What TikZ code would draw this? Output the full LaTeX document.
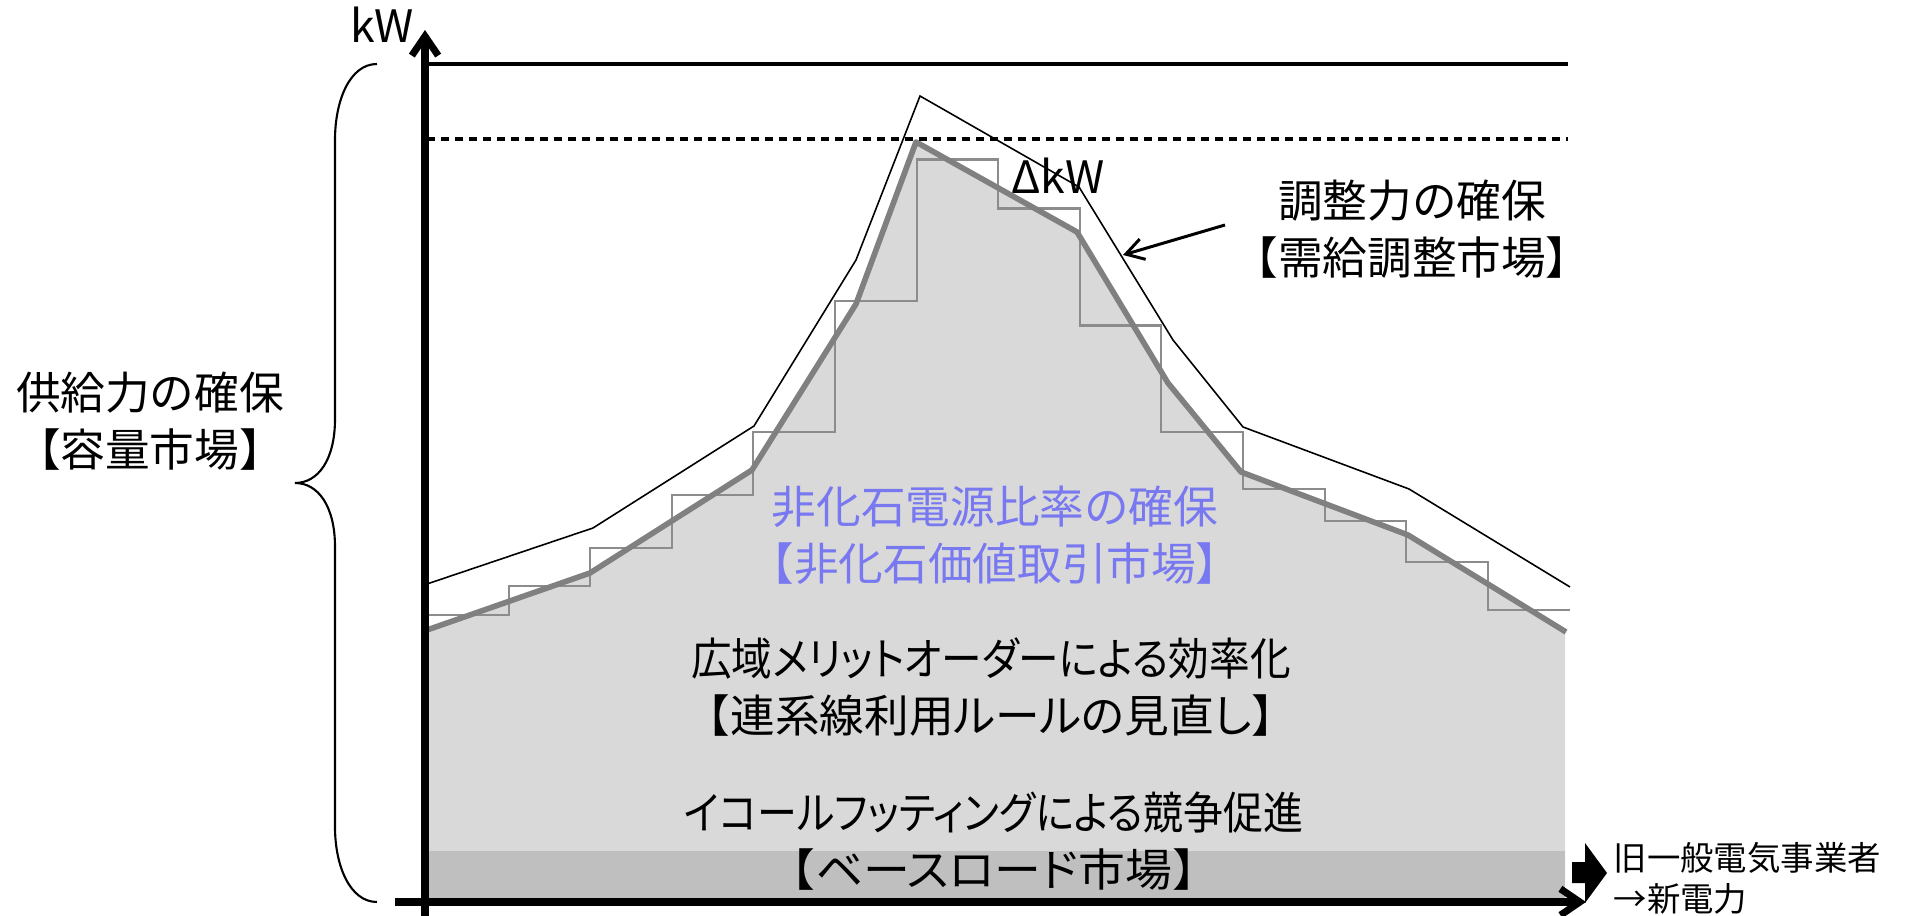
\documentclass[tikz,border=0pt]{standalone}
\usepackage{fontspec}
\setmainfont{Noto Sans CJK JP}
\newfontfamily\jpp[RawFeature=+palt]{Noto Sans CJK JP}
\newcommand{\pk}[1]{{\jpp #1}}
\usetikzlibrary{arrows.meta}
\definecolor{fillL}{HTML}{D9D9D9}
\definecolor{fillD}{HTML}{BFBFBF}
\definecolor{curveG}{HTML}{808080}
\definecolor{stepG}{HTML}{8C8C8C}
\definecolor{nfblue}{RGB}{120,120,240}
\begin{document}
\begin{tikzpicture}[x=0.01cm,y=-0.01cm,
  lbl/.style={inner sep=0pt, align=center, font=\fontsize{12.7}{16.2}\selectfont},
  smalllbl/.style={inner sep=0pt, align=left, font=\fontsize{9.5}{11.7}\selectfont},
  axisline/.style={line width=2pt, -{Straight Barb[length=5.5pt,width=7.5pt]}},
  callout/.style={line width=0.85pt, -{Straight Barb[length=5pt,width=6pt]}},
  stepline/.style={stepG, line width=0.7pt},
  demand/.style={curveG, line width=1.6pt, line join=round},
  envelope/.style={black, line width=0.45pt},
  bracepath/.style={black, line width=0.6pt}]
\useasboundingbox (0,0) rectangle (1912,916);

% filled region under the demand curve
\path[fill=fillL] (427,902) -- (427,630) -- (590,573) -- (752,470) -- (856,304) -- (916,142)
  -- (1077,232) -- (1168,383) -- (1241,472) -- (1408,535) -- (1565,632) -- (1565,902) -- cycle;
\fill[fillD] (427,851) rectangle (1565,902);

% step line
\draw[stepline] (427,615) -| (509,586) -| (590,548) -| (672,495) -| (753,432) -| (835,301)
  -| (917,159.5) -| (998,208.5) -| (1080,325.5) -| (1161,432) -| (1243,489) -| (1325,521)
  -| (1406,562) -| (1488,610) -- (1570,610);

% demand curve
\draw[demand] (427,630) -- (590,573) -- (752,470) -- (856,304) -- (916,142) -- (1077,232)
  -- (1168,383) -- (1241,472) -- (1408,535) -- (1566,632);

% upper envelope
\draw[envelope] (427,584) -- (593,528) -- (754,426) -- (856,260) -- (920,96) -- (1079,187)
  -- (1173,340) -- (1243,427) -- (1409,489) -- (1570,587);

% top solid and dashed lines
\draw[line width=1.15pt] (427,64) -- (1568,64);
\draw[line width=0.9pt, dash pattern=on 2.3pt off 1.7pt] (427,139) -- (1568,139);

% axes
\coordinate (yb) at (425,916);
\coordinate (yt) at (425,30);
\coordinate (xl) at (395,902);
\coordinate (xr) at (1586,902);
\draw[axisline] (yb) -- (yt);
\draw[axisline] (xl) -- (xr);

% brace
\draw[bracepath] (377,64) .. controls (350,64) and (335,100) .. (335,140) -- (335,419)
  .. controls (335,460) and (318,483) .. (295,483)
  .. controls (318,483) and (335,506) .. (335,547) -- (335,827)
  .. controls (335,866) and (350,902) .. (377,902);

% block arrow
\fill (1572,862) -- (1585,862) -- (1585,843) -- (1607,873) -- (1585,903) -- (1585,883)
  -- (1572,883) -- cycle;

% texts
\node[lbl, anchor=base] (kw) at (382,43) {kW};
\node[lbl] (dkw) at (1058,176) {ΔkW};
\node[lbl] (adj) at (1412,229) {調整力の確保\\【需給調整市場】};
\node[lbl] (sup) at (150,421) {供給力の確保\\【容量市場】};
\node[lbl, text=nfblue] (nf) at (995,535) {非化石電源比率の確保\\【非化石価値取引市場】};
\node[lbl] (wide) at (991,687) {\scalebox{0.91}[1]{\pk{広域メリットオーダーによる効率化}}\\【\pk{連系線利用ルールの見直し}】};
\node[lbl] (eq) at (994,841) {\scalebox{0.895}[1]{\pk{イコールフッティングによる競争促進}}\\\scalebox{1.05}[1]{【\pk{ベースロード市場}】}};
\node[smalllbl, anchor=west] (old) at (1613,878) {旧一般電気事業者\\→新電力};

% callout arrow
\coordinate (cs) at (1225,225);
\coordinate (ct) at (1123,255);
\draw[callout] (cs) -- (ct);
\end{tikzpicture}
\end{document}
